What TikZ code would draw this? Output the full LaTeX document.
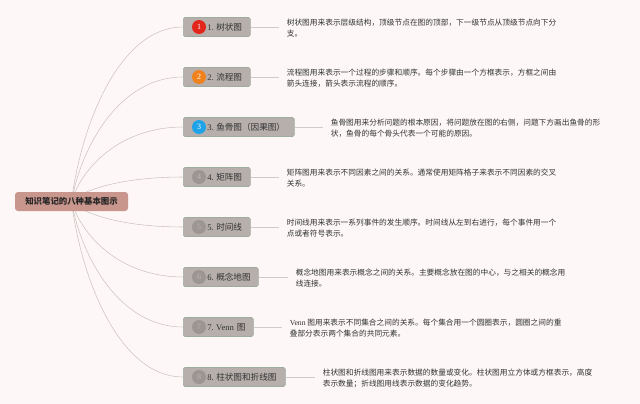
\documentclass[tikz,border=0pt]{standalone}
\usepackage{fontspec}
\setmainfont{Liberation Serif}
\newfontfamily\lat{Liberation Serif}
\newfontfamily\cjk{Noto Sans CJK SC}
\usetikzlibrary{backgrounds,calc}
\definecolor{bgc}{HTML}{FDF7F7}
\definecolor{rootc}{HTML}{C9968D}
\definecolor{boxc}{HTML}{B6AFAC}
\definecolor{boxb}{HTML}{9EAC9F}
\definecolor{curvec}{HTML}{CCC4C3}
\definecolor{linkc}{HTML}{CFCBCB}
\definecolor{txtc}{HTML}{333333}
\definecolor{cred}{HTML}{E3261B}
\definecolor{corange}{HTML}{F0821E}
\definecolor{cblue}{HTML}{1FA3E8}
\definecolor{cgray}{HTML}{9B9593}
\definecolor{cgraytxt}{HTML}{BDB6B3}
\tikzset{
  rootbox/.style={fill=rootc, rounded corners=3pt, minimum width=113pt, minimum height=19pt, inner sep=0pt,
    font=\cjk\bfseries\fontsize{8.4}{10}\selectfont, text=black!85},
  catbox/.style={fill=boxc, draw=boxb, line width=0.6pt, rounded corners=1.5pt, anchor=west,
    minimum height=19pt, inner xsep=0pt, inner ysep=0pt, align=left, text=txtc,
    font=\fontsize{8.6}{10}\selectfont},
  numc/.style={circle, minimum size=14pt, inner sep=0pt, font=\lat\fontsize{8}{9}\selectfont},
  desc/.style={anchor=west, align=left, inner sep=0pt, text=txtc, font=\cjk\fontsize{7.7}{11}\selectfont},
  curve/.style={draw=curvec, line width=0.55pt},
  link/.style={draw=linkc, line width=0.6pt, shorten >=8pt}
}
\newcommand{\catlbl}[2]{\hspace*{24pt}{\lat #1}\hspace{2.5pt}{\cjk #2}}
\begin{document}
\begin{tikzpicture}[x=1pt,y=-1pt]
\useasboundingbox (0,0) rectangle (640,404);
\begin{scope}[on background layer]
\fill[bgc] (0,0) rectangle (640,404);
\end{scope}

\node[rootbox] (root) at (71.5,201.5) {知识笔记的八种基本图示};

\node[catbox, text width=67pt]  (n1) at (183,27)  {\catlbl{1.}{树状图}};
\node[catbox, text width=67pt]  (n2) at (183,77)  {\catlbl{2.}{流程图}};
\node[catbox, text width=111pt] (n3) at (183,127) {\catlbl{3.}{鱼骨图（因果图）}};
\node[catbox, text width=67pt]  (n4) at (183,177) {\catlbl{4.}{矩阵图}};
\node[catbox, text width=67pt]  (n5) at (183,227) {\catlbl{5.}{时间线}};
\node[catbox, text width=75pt]  (n6) at (183,277) {\catlbl{6.}{概念地图}};
\node[catbox, text width=70pt]  (n7) at (183,327) {\catlbl{7.}{{\lat Venn} 图}};
\node[catbox, text width=102pt] (n8) at (183,377) {\catlbl{8.}{柱状图和折线图}};

\node[numc, fill=cred, text=white]        (c1) at ($(n1.west)+(16,0)$) {1};
\node[numc, fill=corange, text=white]     (c2) at ($(n2.west)+(16,0)$) {2};
\node[numc, fill=cblue, text=white]       (c3) at ($(n3.west)+(16,0)$) {3};
\node[numc, fill=cgray, text=cgraytxt]    (c4) at ($(n4.west)+(16,0)$) {4};
\node[numc, fill=cgray, text=cgraytxt]    (c5) at ($(n5.west)+(16,0)$) {5};
\node[numc, fill=cgray, text=cgraytxt]    (c6) at ($(n6.west)+(16,0)$) {6};
\node[numc, fill=cgray, text=cgraytxt]    (c7) at ($(n7.west)+(16,0)$) {7};
\node[numc, fill=cgray, text=cgraytxt]    (c8) at ($(n8.west)+(16,0)$) {8};

\node[desc] (t1) at ($(n1.east)+(36,1)$) {树状图用来表示层级结构，顶级节点在图的顶部，下一级节点从顶级节点向下分\\支。};
\node[desc] (t2) at ($(n2.east)+(36,1)$) {流程图用来表示一个过程的步骤和顺序。每个步骤由一个方框表示，方框之间由\\箭头连接，箭头表示流程的顺序。};
\node[desc] (t3) at ($(n3.east)+(36,1)$) {鱼骨图用来分析问题的根本原因，将问题放在图的右侧，问题下方画出鱼骨的形\\状，鱼骨的每个骨头代表一个可能的原因。};
\node[desc] (t4) at ($(n4.east)+(36,1)$) {矩阵图用来表示不同因素之间的关系。通常使用矩阵格子来表示不同因素的交叉\\关系。};
\node[desc] (t5) at ($(n5.east)+(36,1)$) {时间线用来表示一系列事件的发生顺序。时间线从左到右进行，每个事件用一个\\点或者符号表示。};
\node[desc] (t6) at ($(n6.east)+(37,1)$) {概念地图用来表示概念之间的关系。主要概念放在图的中心，与之相关的概念用\\线连接。};
\node[desc] (t7) at ($(n7.east)+(36,1)$) {{\lat Venn} 图用来表示不同集合之间的关系。每个集合用一个圆圈表示，圆圈之间的重\\叠部分表示两个集合的共同元素。};
\node[desc] (t8) at ($(n8.east)+(37,1)$) {柱状图和折线图用来表示数据的数量或变化。柱状图用立方体或方框表示，高度\\表示数量；折线图用线表示数据的变化趋势。};

\begin{scope}[on background layer]
\foreach \i/\d in {1/-78.5,2/-56,3/-33.5,4/-11,5/11.5,6/34,7/56.5,8/79}{
  \draw[curve] (root.center) .. controls +(10,\d) and +(-63,0) .. (n\i.west);
}
\foreach \i in {1,...,8}{
  \draw[link] (n\i.east) -- (n\i.east -| t\i.west);
}
\end{scope}
\end{tikzpicture}
\end{document}
